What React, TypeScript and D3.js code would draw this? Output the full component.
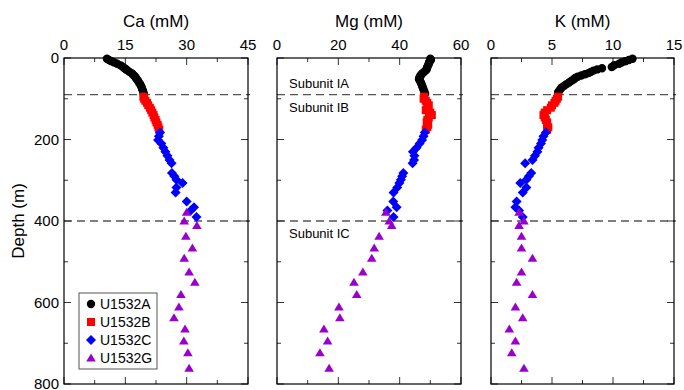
import React from "react";
import * as d3 from "d3";

// ---------- data ----------
const depthA = [2, 5, 8, 11, 14, 18, 22, 25, 28, 31, 34, 37, 40, 43, 46, 49, 52, 56, 60, 64, 68, 72, 76, 80, 84, 88];
const caA = [10.5, 11.0, 11.6, 12.3, 13.0, 13.8, 14.4, 14.8, 15.2, 15.6, 16.0, 16.5, 16.8, 17.1, 17.4, 17.6, 17.8, 18.1, 18.3, 18.6, 18.8, 19.0, 19.1, 19.3, 19.4, 19.5];
const mgA = [50.0, 50.2, 49.8, 49.6, 49.5, 49.3, 49.0, 48.9, 48.8, 48.4, 48.0, 47.5, 47.2, 46.8, 46.6, 46.4, 46.3, 46.6, 46.9, 47.1, 47.3, 47.5, 47.7, 47.9, 48.1, 48.3];
const kA = [11.6, 11.3, 11.0, 10.7, 10.5, 10.1, 9.9, 9.1, 8.7, 8.4, 8.2, 8.0, 7.7, 7.4, 7.1, 6.9, 6.8, 6.6, 6.4, 6.2, 6.0, 5.8, 5.7, 5.6, 5.5, 5.5];

const depthB = [95, 100, 105, 110, 116, 122, 128, 134, 140, 146, 152, 158, 164, 170, 176];
const caB = [19.4, 19.6, 19.9, 20.3, 20.6, 21.0, 21.3, 21.6, 21.9, 22.1, 22.4, 22.6, 22.9, 23.1, 23.3];
const mgB = [48.0, 47.8, 48.5, 49.0, 49.5, 49.0, 48.5, 50.0, 50.5, 49.5, 49.0, 48.8, 49.3, 49.0, 48.5];
const kB = [5.5, 5.4, 5.3, 5.2, 5.0, 4.9, 4.6, 4.4, 4.3, 4.4, 4.5, 4.6, 4.6, 4.7, 4.6];

const depthC = [183, 192, 201, 210, 220, 230, 240, 250, 258, 282, 290, 299, 307, 318, 330, 352, 366, 374, 390];
const caC = [23.5, 23.2, 23.0, 23.8, 24.3, 24.8, 25.3, 25.8, 26.3, 26.4, 27.0, 27.5, 29.0, 27.5, 27.3, 30.0, 31.8, 31.0, 32.4];
const mgC = [48.2, 47.8, 47.3, 46.5, 45.5, 44.3, 44.8, 44.7, 44.2, 41.2, 40.8, 40.4, 39.9, 39.2, 38.0, 37.9, 39.0, 36.0, 38.0];
const kC = [4.5, 4.3, 4.2, 4.1, 3.9, 3.8, 3.6, 3.4, 2.8, 3.3, 3.1, 2.9, 2.4, 2.9, 2.6, 2.1, 2.0, 2.3, 2.6];

const depthG = [378, 400, 411, 437, 466, 491, 525, 550, 580, 611, 637, 665, 694, 723, 761];
const caG = [30.0, 29.4, 32.5, 29.8, 31.4, 29.4, 30.6, 32.0, 28.6, 28.1, 26.9, 29.6, 29.3, 30.3, 30.6];
const mgG = [35.5, 36.6, 37.4, 33.3, 31.7, 30.9, 28.0, 25.1, 26.0, 20.2, 20.5, 15.3, 16.5, 14.0, 17.0];
const kG = [2.3, 2.7, 2.3, 2.5, 2.5, 3.4, 2.5, 2.1, 3.4, 2.0, 2.6, 1.5, 2.0, 1.7, 2.7];

const siteNames = ["U1532A", "U1532B", "U1532C", "U1532G"];
const siteColors = ["#000000", "#ff0000", "#0000ff", "#9900cc"];
const siteShapes = ["circle", "square", "diamond", "triangle"];

const panelTitles = ["Ca (mM)", "Mg (mM)", "K (mM)"];
const panelMax = [45, 60, 15];
const panelTicks = [[0, 15, 30, 45], [0, 20, 40, 60], [0, 5, 10, 15]];
const depthTicks = [0, 200, 400, 600, 800];
const boundaryDepths = [90, 400];
const subunitLabels = [
  { text: "Subunit IA", depth: 62 },
  { text: "Subunit IB", depth: 122 },
  { text: "Subunit IC", depth: 430 },
];

// ---------- layout ----------
const W = 684;
const H = 390;
const top = 58;
const bottom = 384;
const panelX: [number, number][] = [[64, 248], [277, 461], [491, 674]];
const FONT = "'Liberation Sans', Arial, Helvetica, sans-serif";

function markerPath(shape: string, x: number, y: number): string {
  const p = d3.path();
  if (shape === "circle") {
    p.moveTo(x + 4.2, y);
    p.arc(x, y, 4.2, 0, Math.PI * 2);
  } else if (shape === "square") {
    const s = 4;
    p.rect(x - s, y - s, 2 * s, 2 * s);
  } else if (shape === "diamond") {
    const s = 5;
    p.moveTo(x, y - s);
    p.lineTo(x + s, y);
    p.lineTo(x, y + s);
    p.lineTo(x - s, y);
    p.closePath();
  } else {
    const w = 4.8;
    const h = 8;
    p.moveTo(x, y - h * 0.55);
    p.lineTo(x + w, y + h * 0.45);
    p.lineTo(x - w, y + h * 0.45);
    p.closePath();
  }
  return p.toString();
}

export default function App() {
  const y = d3.scaleLinear().domain([0, 800]).range([top, bottom]);
  const depths = [depthA, depthB, depthC, depthG];
  const values = [
    [caA, caB, caC, caG],
    [mgA, mgB, mgC, mgG],
    [kA, kB, kC, kG],
  ];
  const minorDepth = d3.range(100, 800, 200);

  return (
    <div style={{ position: "absolute", left: 0, top: 0 }}>
      <svg width={W} height={H} style={{ display: "block", fontFamily: FONT }}>
        <rect x={0} y={0} width={W} height={H} fill="#fff" />
        {panelX.map((range, pi) => {
          const x = d3.scaleLinear().domain([0, panelMax[pi]]).range(range);
          const majors = panelTicks[pi];
          const step = majors[1] - majors[0];
          const minors = majors.slice(0, -1).map((t) => t + step / 2);
          const [x0, x1] = range;
          return (
            <g key={pi}>
              {/* title */}
              <text x={(x0 + x1) / 2} y={27} textAnchor="middle" fontSize={17} fill="#000">
                {panelTitles[pi]}
              </text>
              {/* top tick labels */}
              {majors.map((t) => (
                <text key={t} x={x(t)} y={50} textAnchor="middle" fontSize={15} fill="#000">
                  {t}
                </text>
              ))}
              {/* boundary dashed lines */}
              {boundaryDepths.map((d) => (
                <line key={d} x1={x0} x2={x1 + 2} y1={y(d)} y2={y(d)} stroke="#555" strokeWidth={1.3} strokeDasharray="8,5" />
              ))}
              {/* ticks */}
              {majors.map((t) => (
                <g key={"mt" + t}>
                  <line x1={x(t)} x2={x(t)} y1={top} y2={top + 7} stroke="#333" strokeWidth={1} />
                  <line x1={x(t)} x2={x(t)} y1={bottom} y2={bottom - 7} stroke="#333" strokeWidth={1} />
                </g>
              ))}
              {minors.map((t) => (
                <g key={"nt" + t}>
                  <line x1={x(t)} x2={x(t)} y1={top} y2={top + 4} stroke="#333" strokeWidth={1} />
                  <line x1={x(t)} x2={x(t)} y1={bottom} y2={bottom - 4} stroke="#333" strokeWidth={1} />
                </g>
              ))}
              {depthTicks.map((d) => (
                <g key={"dt" + d}>
                  <line x1={x0} x2={x0 + 7} y1={y(d)} y2={y(d)} stroke="#333" strokeWidth={1} />
                  <line x1={x1} x2={x1 - 7} y1={y(d)} y2={y(d)} stroke="#333" strokeWidth={1} />
                </g>
              ))}
              {minorDepth.map((d) => (
                <g key={"dn" + d}>
                  <line x1={x0} x2={x0 + 4} y1={y(d)} y2={y(d)} stroke="#333" strokeWidth={1} />
                  <line x1={x1} x2={x1 - 4} y1={y(d)} y2={y(d)} stroke="#333" strokeWidth={1} />
                </g>
              ))}
              {/* data */}
              {depths.map((ds, si) => (
                <g key={"s" + si} fill={siteColors[si]}>
                  {ds.map((d, i) => (
                    <path key={i} d={markerPath(siteShapes[si], x(values[pi][si][i]), y(d))} />
                  ))}
                </g>
              ))}
              {/* frame */}
              <rect x={x0} y={top} width={x1 - x0} height={bottom - top} fill="none" stroke="#000" strokeWidth={1.2} />
            </g>
          );
        })}

        {/* depth labels */}
        {depthTicks.map((d) => (
          <text key={d} x={59} y={y(d)} dy="0.36em" textAnchor="end" fontSize={15} fill="#000">
            {d}
          </text>
        ))}
        <text
          transform={`translate(24,${(top + bottom) / 2}) rotate(-90)`}
          textAnchor="middle"
          fontSize={17}
          fill="#000"
        >
          Depth (m)
        </text>

        {/* subunit labels */}
        {subunitLabels.map((s) => (
          <text key={s.text} x={289} y={y(s.depth)} dy="0.36em" fontSize={13} fill="#000">
            {s.text}
          </text>
        ))}

        {/* legend */}
        <rect x={79} y={293} width={78} height={76} fill="#fff" stroke="#555" strokeWidth={1} />
        {siteNames.map((n, i) => {
          const ly = 304 + i * 18;
          return (
            <g key={n}>
              <path d={markerPath(siteShapes[i], 91, ly)} fill={siteColors[i]} />
              <text x={100} y={ly} dy="0.36em" fontSize={14} fill="#000">
                {n}
              </text>
            </g>
          );
        })}
      </svg>
    </div>
  );
}
